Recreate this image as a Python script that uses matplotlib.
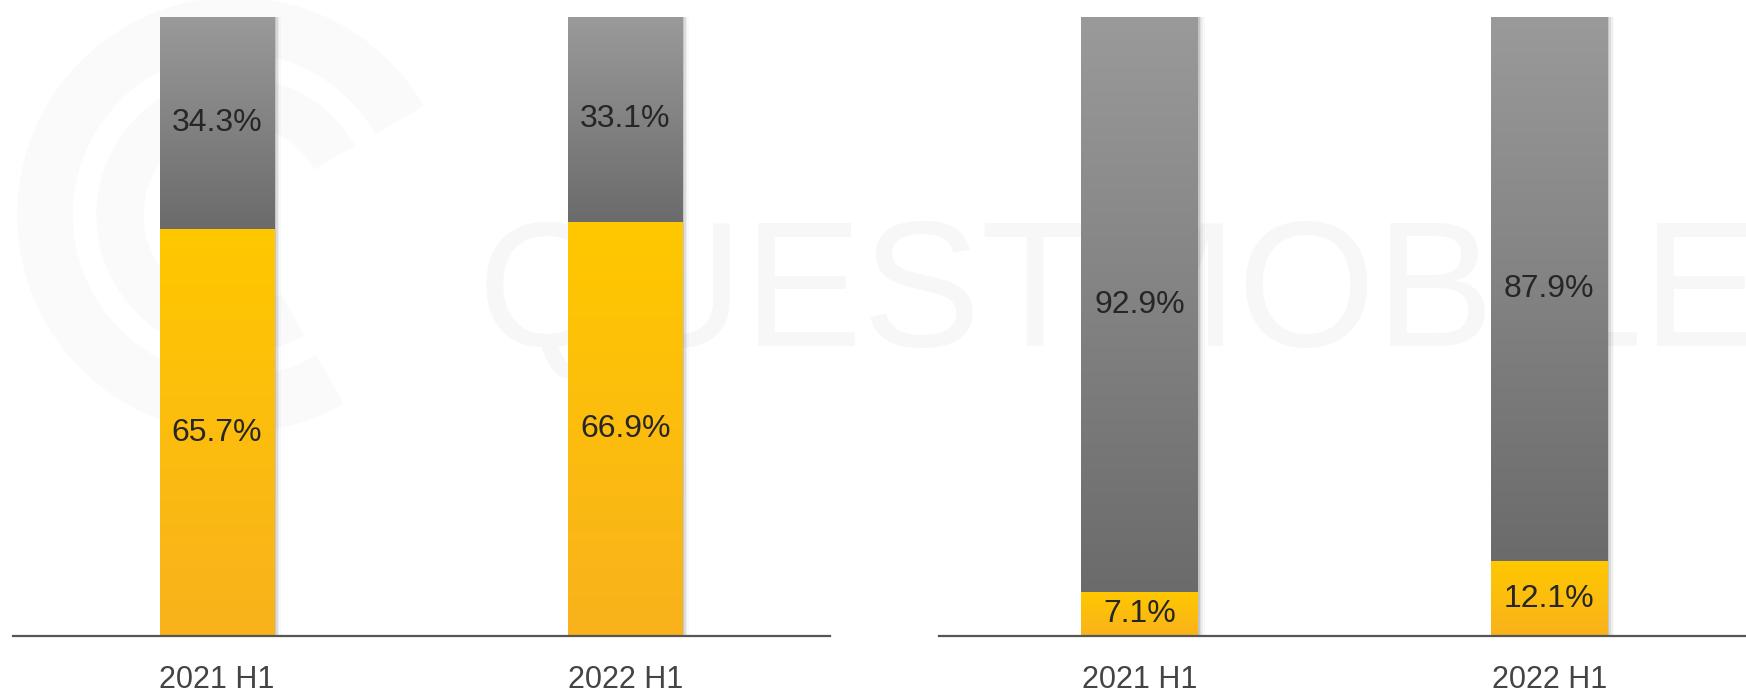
import numpy as np
import matplotlib.pyplot as plt
from matplotlib.patches import Arc
from matplotlib.colors import LinearSegmentedColormap

periods = ['2021 H1', '2022 H1']
left_yellow = [65.7, 66.9]
left_gray = [34.3, 33.1]
right_yellow = [7.1, 12.1]
right_gray = [92.9, 87.9]

gray_cmap = LinearSegmentedColormap.from_list('g', ['#9a9a9a', '#6b6b6b'])
gold_cmap = LinearSegmentedColormap.from_list('y', ['#ffc800', '#f9b21c'])

fig = plt.figure(figsize=(17.46, 6.92), dpi=100)

# faint watermark on a background axes (pixel coords), under the bars
bg = fig.add_axes([0, 0, 1, 1], zorder=-1)
bg.set_xlim(0, 1746)
bg.set_ylim(692, 0)
bg.axis('off')
bg.text(1120, 300, 'QUESTMOBILE', fontsize=128, color='#f7f7f7',
        ha='center', va='center', family='Liberation Sans')
for r, lw in [(190, 40), (115, 34)]:
    bg.add_patch(Arc((235, 215), 2 * r, 2 * r, theta1=60, theta2=330,
                     color='#fafafa', lw=lw))


def grad_bar(ax, x, bottom, height, width, cmap):
    # soft shadow to the right of the bar
    for k, a in enumerate([0.10, 0.07, 0.045, 0.025]):
        ax.add_patch(plt.Rectangle((x - width / 2 + 0.004 * (k + 1), bottom), width, height,
                                   facecolor='black', alpha=a, edgecolor='none', zorder=1))
    rect = plt.Rectangle((x - width / 2, bottom), width, height,
                         facecolor=cmap(0.5), edgecolor='none', zorder=2)
    ax.add_patch(rect)
    grad = np.linspace(0, 1, 256).reshape(-1, 1)
    im = ax.imshow(grad, cmap=cmap, aspect='auto', origin='upper',
                   extent=(x - width / 2, x + width / 2, bottom, bottom + height),
                   zorder=3)
    im.set_clip_path(rect)


def panel(rect, yellow, gray, width, xlim):
    ax = fig.add_axes(rect)
    ax.patch.set_alpha(0)
    for i, (yv, gv) in enumerate(zip(yellow, gray)):
        grad_bar(ax, i, 0, yv, width, gold_cmap)
        grad_bar(ax, i, yv, gv, width, gray_cmap)
        ax.text(i, yv / 2, f'{yv:.1f}%', ha='center', va='center', fontsize=23,
                color='#262626', family='Liberation Sans', zorder=5)
        ax.text(i, yv + gv / 2, f'{gv:.1f}%', ha='center', va='center', fontsize=23,
                color='#262626', family='Liberation Sans', zorder=5)
    ax.set_xlim(*xlim)
    ax.set_ylim(0, 100)
    ax.set_xticks(range(len(periods)))
    ax.set_xticklabels(periods, fontsize=22, color='#444444',
                       family=['Liberation Sans Narrow', 'Liberation Sans'])
    ax.tick_params(axis='x', length=0, pad=21)
    ax.set_yticks([])
    for s in ['top', 'left', 'right']:
        ax.spines[s].set_visible(False)
    ax.spines['bottom'].set_color('#555555')
    ax.spines['bottom'].set_linewidth(1.6)
    ax.spines['bottom'].set_zorder(6)
    return ax


panel([0.0074, 0.081, 0.4677, 0.8944], left_yellow, left_gray, 0.28, (-0.5, 1.5))
panel([0.5378, 0.081, 0.4622, 0.8944], right_yellow, right_gray, 0.285, (-0.49, 1.48))

fig.savefig('out.png', dpi=100)
